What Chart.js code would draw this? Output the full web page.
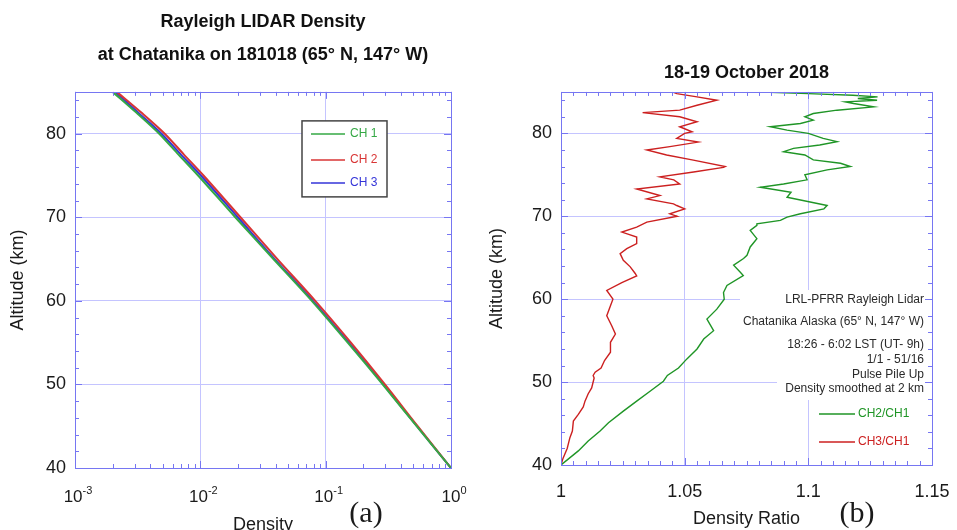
<!DOCTYPE html>
<html>
<head>
<meta charset="utf-8">
<script src="https://cdn.jsdelivr.net/npm/chart.js@4.4.1/dist/chart.umd.min.js"></script>
<style>
  html, body { margin: 0; padding: 0; background: #fff; }
  #wrap { position: relative; width: 957px; height: 530px; overflow: hidden; }
  canvas { position: absolute; top: 0; }
  #left { left: 0; }
  #right { left: 478px; }
</style>
</head>
<body>
<div id="wrap">
  <canvas id="left" width="478" height="530"></canvas>
  <canvas id="right" width="479" height="530"></canvas>
</div>
<script>
// ---- (a) normalised density per channel ----
const densityAltitudes = [40, 45, 50, 55, 60, 65, 70, 75, 77.5, 80, 82.5, 85];
const ch1Density = [1.0, 0.532, 0.285, 0.150, 0.0775, 0.0383, 0.0190, 0.0096, 0.0067, 0.0047, 0.0031, 0.00200];
const ch2Density = [1.0, 0.542, 0.297, 0.159, 0.0826, 0.0412, 0.0209, 0.0106, 0.0074, 0.0052, 0.0034, 0.00216];
const ch3Density = [1.0, 0.535, 0.289, 0.153, 0.0791, 0.0392, 0.0199, 0.0101, 0.0070, 0.0049, 0.0032, 0.00209];
const densityTicks = [0.001, 0.01, 0.1, 1];
const densityExponents = ['-3', '-2', '-1', '0'];
const altitudeTicks = [40, 50, 60, 70, 80];

// ---- (b) channel ratios ----
const ratio21Altitudes = [40.0, 41.7, 42.9, 44.1, 45.1, 46.5, 47.7, 48.9, 50.1, 50.8, 51.7, 52.8, 54.0, 55.2,
  56.2, 57.6, 58.8, 60.0, 60.8, 61.65, 62.85, 63.25, 64.1, 64.9, 65.3, 66.3, 67.3, 68.3, 68.9, 69.1, 69.5,
  69.9, 70.3, 70.9, 71.3, 72.3, 72.9, 73.5, 73.9, 74.4, 75.0, 75.6, 76.0, 76.4, 76.8, 77.4, 77.8, 78.2,
  78.6, 79.0, 79.4, 80.0, 80.4, 80.8, 81.2, 81.6, 82.0, 82.4, 82.8, 83.2, 83.6, 83.8, 84.0, 84.2, 84.4,
  84.6, 84.8, 85.0];
const ratio21Values = [1.000, 1.007, 1.011, 1.0158, 1.0192, 1.0252, 1.0306, 1.036, 1.0414, 1.043, 1.0475, 1.0509, 1.055, 1.0577,
  1.0617, 1.059, 1.063, 1.066, 1.0657, 1.0671, 1.0737, 1.0725, 1.0698, 1.0738, 1.0752, 1.0765, 1.0792, 1.0765, 1.0792, 1.0792, 1.0887,
  1.0914, 1.0968, 1.1063, 1.1076, 1.0914, 1.093, 1.0806, 1.090, 1.0995, 1.0986, 1.1076, 1.117, 1.113, 1.102, 1.0986, 1.090, 1.094,
  1.1046, 1.1116, 1.106, 1.100, 1.0914, 1.0846, 1.0968, 1.102, 1.0986, 1.102, 1.1116, 1.1264, 1.1183, 1.1150, 1.1278, 1.1200, 1.128,
  1.118, 1.100, 1.0812];

const ratio31Altitudes = [40.0, 40.8, 42.0, 43.3, 44.1, 45.3, 46.1, 47.0, 47.7, 48.6, 49.3, 50.5, 50.8, 51.2,
  51.7, 52.6, 53.6, 54.8, 55.8, 56.8, 58.0, 59.2, 60.0, 61.05, 62.0, 62.8, 63.1, 63.9, 64.7, 65.5, 66.1,
  66.7, 67.5, 68.1, 68.7, 69.3, 70.0, 70.3, 70.9, 71.3, 71.5, 72.1, 72.5, 73.3, 73.9, 74.4, 74.75, 75.35,
  75.9, 76.0, 76.8, 77.4, 78.0, 78.4, 78.95, 79.4, 80.0, 80.2, 80.8, 81.4, 82.0, 82.5, 82.8, 83.4, 84.0,
  84.4, 84.8, 85.0];
const ratio31Values = [1.000, 1.0008, 1.0025, 1.0036, 1.0046, 1.005, 1.007, 1.009, 1.0097, 1.011, 1.0124, 1.0134, 1.013, 1.0138,
  1.0162, 1.0176, 1.020, 1.020, 1.022, 1.0205, 1.0185, 1.020, 1.021, 1.0185, 1.0246, 1.0306, 1.030, 1.028, 1.0252, 1.0239, 1.0266,
  1.0306, 1.0306, 1.0246, 1.0306, 1.0347, 1.047, 1.044, 1.050, 1.0468, 1.0455, 1.0347, 1.040, 1.0306, 1.048, 1.0456, 1.040, 1.0536,
  1.0657, 1.0664, 1.053, 1.0427, 1.0347, 1.044, 1.0555, 1.0468, 1.050, 1.053, 1.048, 1.055, 1.048, 1.033, 1.048, 1.055, 1.063,
  1.055, 1.0468, 1.045];
const ratioTicks = [1, 1.05, 1.1, 1.15];
const ratioTickLabels = ['1', '1.05', '1.1', '1.15'];

const infoLines = ['LRL-PFRR Rayleigh Lidar', 'Chatanika Alaska (65\u00B0 N, 147\u00B0 W)',
  '18:26 - 6:02 LST (UT- 9h)', '1/1 - 51/16', 'Pulse Pile Up', 'Density smoothed at 2 km'];

const FONT = '"Liberation Sans", Arial, sans-serif';
const colors = {
  frame: '#7676f2',
  grid: '#c4c4ff',
  text: '#1a1a1a',
  ch1: '#35a845',
  ch2: '#d93535',
  ch3: '#3434d8',
  r21: '#1f9526',
  r31: '#cc2020',
};

Chart.defaults.font.family = FONT;
Chart.defaults.color = colors.text;

function toPoints(xs, ys) {
  return xs.map((v, i) => ({ x: v, y: ys[i] }));
}

function fixedTicks(values) {
  return (scale) => { scale.ticks = values.map(v => ({ value: v })); };
}

// keep the plot area where we put it: no extra room for overhanging labels
function fixSize(prop, size) {
  return (s) => {
    s[prop] = size;
    s.paddingLeft = 0; s.paddingRight = 0;
    s.paddingTop = 0; s.paddingBottom = 0;
  };
}

// log minor ticks 2..9 per decade
const densityMinor = [];
for (let d = -3; d < 0; d++) {
  for (let m = 2; m <= 9; m++) densityMinor.push(m * Math.pow(10, d));
}
const altitudeMinor = [42, 44, 46, 48, 52, 54, 56, 58, 62, 64, 66, 68, 72, 74, 76, 78, 82, 84];
const ratioMinor = [];
for (let k = 1; k < 30; k++) if (k % 10 !== 0) ratioMinor.push(1 + k * 0.005);

/**
 * Plot frame with inward ticks on all four sides
 */
function frameTicks(xMajor, xMinor, yMajor, yMinor) {
  return {
    id: 'frameTicks',
    afterDatasetsDraw(chart) {
      const { ctx, chartArea: a, scales: { x, y } } = chart;
      const px = v => Math.round(v) + 0.5;
      ctx.save();
      ctx.strokeStyle = colors.frame;
      ctx.lineWidth = 1;
      ctx.beginPath();
      const vTick = (v, len) => {
        const p = px(x.getPixelForValue(v));
        ctx.moveTo(p, a.bottom); ctx.lineTo(p, a.bottom - len);
        ctx.moveTo(p, a.top); ctx.lineTo(p, a.top + len);
      };
      const hTick = (v, len) => {
        const p = px(y.getPixelForValue(v));
        ctx.moveTo(a.left, p); ctx.lineTo(a.left + len, p);
        ctx.moveTo(a.right, p); ctx.lineTo(a.right - len, p);
      };
      xMajor.forEach(v => vTick(v, 7));
      xMinor.forEach(v => vTick(v, 4));
      yMajor.forEach(v => hTick(v, 7));
      yMinor.forEach(v => hTick(v, 4));
      ctx.stroke();
      ctx.strokeRect(px(a.left), px(a.top), Math.round(a.right - a.left), Math.round(a.bottom - a.top));
      ctx.restore();
    }
  };
}

const logLabels = {
  id: 'logLabels',
  afterDraw(chart) {
    const { ctx, chartArea: a, scales: { x } } = chart;
    ctx.save();
    ctx.fillStyle = colors.text;
    ctx.textBaseline = 'alphabetic';
    ctx.textAlign = 'left';
    densityTicks.forEach((v, i) => {
      ctx.font = '17px ' + FONT;
      const bw = ctx.measureText('10').width;
      ctx.font = '11px ' + FONT;
      const ew = ctx.measureText(densityExponents[i]).width;
      const left = x.getPixelForValue(v) + 3 - (bw + ew) / 2;
      ctx.font = '17px ' + FONT;
      ctx.fillText('10', left, a.bottom + 34);
      ctx.font = '11px ' + FONT;
      ctx.fillText(densityExponents[i], left + bw, a.bottom + 26);
    });
    // panel tag
    ctx.font = '30px "Liberation Serif", "Times New Roman", serif';
    ctx.textAlign = 'center';
    ctx.textBaseline = 'middle';
    ctx.fillText('(a)', a.right - 85, 514);
    ctx.restore();
  }
};

const boxedLegend = {
  id: 'boxedLegend',
  afterDraw(chart) {
    const { ctx, chartArea: a } = chart;
    const bx = a.left + 227, by = a.top + 29, bw = 85, bh = 76;
    ctx.save();
    ctx.fillStyle = '#fff';
    ctx.fillRect(bx, by, bw, bh);
    ctx.strokeStyle = '#444';
    ctx.lineWidth = 1.5;
    ctx.strokeRect(bx, by, bw, bh);
    ctx.font = '12px ' + FONT;
    ctx.textBaseline = 'middle';
    ctx.textAlign = 'left';
    const rows = [13, 39, 62];
    chart.data.datasets.forEach((ds, i) => {
      const yy = by + rows[i];
      ctx.strokeStyle = ds.borderColor;
      ctx.lineWidth = 1.5;
      ctx.beginPath();
      ctx.moveTo(bx + 9, yy); ctx.lineTo(bx + 43, yy);
      ctx.stroke();
      ctx.fillStyle = ds.borderColor;
      ctx.fillText(ds.label, bx + 48, yy);
    });
    ctx.restore();
  }
};

const infoPanel = {
  id: 'infoPanel',
  beforeDatasetsDraw(chart) {
    const { ctx, chartArea: a } = chart;
    ctx.save();
    ctx.fillStyle = '#fff';
    ctx.fillRect(a.right - 192, 290, 186, 45);
    ctx.fillRect(a.right - 155, 334, 149, 66);
    ctx.restore();
  },
  afterDraw(chart) {
    const { ctx, chartArea: a } = chart;
    ctx.save();
    ctx.font = '12px ' + FONT;
    ctx.fillStyle = '#2a2a2a';
    ctx.textAlign = 'right';
    ctx.textBaseline = 'middle';
    const rowsY = [300, 322, 345, 360, 375, 389];
    infoLines.forEach((t, i) => ctx.fillText(t, a.right - 8, rowsY[i]));
    ctx.textAlign = 'left';
    const legY = [414, 442];
    chart.data.datasets.forEach((ds, i) => {
      ctx.strokeStyle = ds.borderColor;
      ctx.lineWidth = 1.5;
      ctx.beginPath();
      ctx.moveTo(a.right - 113, legY[i]); ctx.lineTo(a.right - 77, legY[i]);
      ctx.stroke();
      ctx.fillStyle = ds.borderColor;
      ctx.fillText(ds.label, a.right - 74, legY[i]);
    });
    ctx.fillStyle = colors.text;
    ctx.font = '30px "Liberation Serif", "Times New Roman", serif';
    ctx.textAlign = 'center';
    ctx.fillText('(b)', a.right - 75, 514);
    ctx.restore();
  }
};

const baseOptions = {
  responsive: false,
  animation: false,
  devicePixelRatio: 1,
  elements: { point: { radius: 0 }, line: { tension: 0 } },
};

new Chart(document.getElementById('left'), {
  type: 'line',
  data: {
    datasets: [
      { label: 'CH 1', data: toPoints(ch1Density, densityAltitudes), borderColor: colors.ch1, borderWidth: 2, tension: 0.3 },
      { label: 'CH 2', data: toPoints(ch2Density, densityAltitudes), borderColor: colors.ch2, borderWidth: 2, tension: 0.3 },
      { label: 'CH 3', data: toPoints(ch3Density, densityAltitudes), borderColor: colors.ch3, borderWidth: 2, tension: 0.3 },
    ]
  },
  options: {
    ...baseOptions,
    layout: { padding: { left: 0, right: 27, top: 0, bottom: 0 } },
    plugins: {
      legend: { display: false },
      tooltip: { enabled: false },
      title: {
        display: true,
        fullSize: false,
        text: ['Rayleigh LIDAR Density', 'at Chatanika on 181018 (65\u00B0 N, 147\u00B0 W)'],
        font: { size: 18, weight: 'bold', lineHeight: 1.83 },
        color: '#111',
        padding: { top: 5.5, bottom: 20.5 },
      },
    },
    scales: {
      x: {
        type: 'logarithmic',
        min: 0.001,
        max: 1,
        afterBuildTicks: fixedTicks(densityTicks),
        afterFit: fixSize('height', 62),
        ticks: { display: false },
        grid: { color: colors.grid, drawTicks: false },
        border: { display: false },
        title: { display: true, text: 'Density', font: { size: 18, lineHeight: 0.6 }, padding: 0 },
      },
      y: {
        type: 'linear',
        min: 40,
        max: 85,
        afterBuildTicks: fixedTicks(altitudeTicks),
        afterFit: fixSize('width', 75),
        ticks: { font: { size: 18 }, padding: 9 },
        grid: { color: colors.grid, drawTicks: false },
        border: { display: false },
        title: { display: true, text: 'Altitude (km)', font: { size: 18, lineHeight: 1.2 }, padding: { top: 7.2, bottom: 0 } },
      }
    }
  },
  plugins: [frameTicks(densityTicks, densityMinor, altitudeTicks, altitudeMinor), logLabels, boxedLegend]
});

new Chart(document.getElementById('right'), {
  type: 'line',
  data: {
    datasets: [
      { label: 'CH2/CH1', data: toPoints(ratio21Values, ratio21Altitudes), borderColor: colors.r21, borderWidth: 1.4 },
      { label: 'CH3/CH1', data: toPoints(ratio31Values, ratio31Altitudes), borderColor: colors.r31, borderWidth: 1.4 },
    ]
  },
  options: {
    ...baseOptions,
    layout: { padding: { left: 0, right: 25, top: 0, bottom: 0 } },
    plugins: {
      legend: { display: false },
      tooltip: { enabled: false },
      title: {
        display: true,
        fullSize: false,
        text: '18-19 October 2018',
        font: { size: 18, weight: 'bold', lineHeight: 1.83 },
        color: '#111',
        padding: { top: 56.5, bottom: 2.5 },
      },
    },
    scales: {
      x: {
        type: 'linear',
        min: 1,
        max: 1.15,
        afterBuildTicks: fixedTicks(ratioTicks),
        afterFit: fixSize('height', 65),
        ticks: { font: { size: 18 }, padding: 16, callback: (v, i) => ratioTickLabels[i] },
        grid: { color: colors.grid, drawTicks: false },
        border: { display: false },
        title: { display: true, text: 'Density Ratio', font: { size: 18, lineHeight: 1.2 }, padding: 0 },
      },
      y: {
        type: 'linear',
        min: 40,
        max: 85,
        afterBuildTicks: fixedTicks(altitudeTicks),
        afterFit: fixSize('width', 83),
        ticks: { font: { size: 18 }, padding: 9 },
        grid: { color: colors.grid, drawTicks: false },
        border: { display: false },
        title: { display: true, text: 'Altitude (km)', font: { size: 18, lineHeight: 1.2 }, padding: { top: 8.2, bottom: 0 } },
      }
    }
  },
  plugins: [frameTicks(ratioTicks, ratioMinor, altitudeTicks, altitudeMinor), infoPanel]
});
</script>
</body>
</html>
